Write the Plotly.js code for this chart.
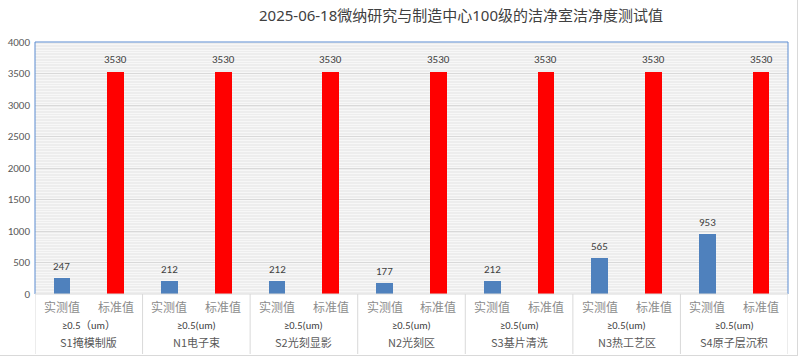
<!DOCTYPE html>
<html><head><meta charset="utf-8">
<script src="https://cdn.plot.ly/plotly-3.0.1.min.js"></script>
<style>html,body{margin:0;padding:0;background:#fff;}#wrap{position:relative;width:799px;height:357px;}#gd{width:799px;height:357px;}#frame{position:absolute;left:0;top:0;width:798px;height:356px;box-sizing:border-box;border-right:1px solid #d9d9d9;border-bottom:1px solid #d9d9d9;pointer-events:none;}</style>
</head><body><div id="wrap"><div id="gd"></div><div id="frame"></div></div>
<script>
const chartTitle = "2025-06-18微纳研究与制造中心100级的洁净室洁净度测试值";
const locations = ["S1掩模制版","N1电子束","S2光刻显影","N2光刻区","S3基片清洗","N3热工艺区","S4原子层沉积"];
const sizeLabels = ["≥0.5（um）","≥0.5(um)","≥0.5(um)","≥0.5(um)","≥0.5(um)","≥0.5(um)","≥0.5(um)"];
const seriesNames = ["实测值","标准值"];
const measured = [247,212,212,177,212,565,953];
const standard = [3530,3530,3530,3530,3530,3530,3530];
const yTicks = [0,500,1000,1500,2000,2500,3000,3500,4000];

const n = locations.length;
const xBlue = locations.map((_,i)=>2*i);
const xRed = locations.map((_,i)=>2*i+1);
const font = "Calibri, Carlito, 'Noto Sans', 'Noto Sans CJK SC', sans-serif";
const cjk = "'Noto Sans CJK SC', sans-serif";

const traces = [
  {type:'bar', x:xBlue, y:measured, width:0.31, marker:{color:'#4f81bd'}, hoverinfo:'y', name:seriesNames[0]},
  {type:'bar', x:xRed, y:standard, width:0.31, marker:{color:'#ff0000'}, hoverinfo:'y', name:seriesNames[1]}
];

const annotations = [];
const shapes = [];
const plotH = 357-42-63;
const py = p => -(p-294)/plotH;
for (let i=0;i<n;i++){
  annotations.push({x:xBlue[i], y:measured[i], xref:'x', yref:'y', text:String(measured[i]), showarrow:false, yanchor:'bottom', yshift:3, font:{size:11,color:'#404040',family:font}});
  annotations.push({x:xRed[i], y:standard[i], xref:'x', yref:'y', text:String(standard[i]), showarrow:false, yanchor:'bottom', yshift:4, font:{size:11,color:'#404040',family:font}});
  for (let k=0;k<2;k++){
    annotations.push({x:2*i+k, xref:'x', y:py(306), yref:'paper', text:seriesNames[k], showarrow:false, yanchor:'middle', font:{size:12,color:'#8c8c8c',family:cjk}});
  }
  annotations.push({x:2*i+0.5, xref:'x', y:py(325.5), yref:'paper', text:sizeLabels[i], showarrow:false, yanchor:'middle', font:{size:10.5,color:'#404040',family:font}});
  annotations.push({x:2*i+0.5, xref:'x', y:py(342), yref:'paper', text:locations[i], showarrow:false, yanchor:'middle', font:{size:11,color:'#595959',family:cjk}});
}
for (let i=0;i<=n;i++){
  shapes.push({type:'line', xref:'x', yref:'paper', x0:2*i-0.5, x1:2*i-0.5, y0:0, y1:py(354), line:{color:'#d9d9d9',width:1}});
}
shapes.push({type:'line', xref:'paper', yref:'paper', x0:0,x1:0,y0:0,y1:1, line:{color:'#5b8bd0',width:1}});
shapes.push({type:'line', xref:'paper', yref:'paper', x0:0,x1:1,y0:1,y1:1, line:{color:'#5b8bd0',width:1}});
shapes.push({type:'line', xref:'paper', yref:'paper', x0:1,x1:1,y0:0,y1:1, line:{color:'#5b8bd0',width:1}});
shapes.push({type:'line', xref:'paper', yref:'paper', x0:0,x1:1,y0:0,y1:0, line:{color:'#d9d9d9',width:1}});

const layout = {
  width:799, height:357,
  margin:{l:35, r:11, t:42, b:63},
  paper_bgcolor:'#ffffff', plot_bgcolor:'#f7f7f7',
  showlegend:false,
  title:{text:chartTitle, x:0.577, xanchor:'center', xref:'container', y:0.955, yref:'container', yanchor:'middle', font:{size:15,color:'#404040',family:"'Noto Sans', 'Noto Sans CJK SC', sans-serif"}},
  xaxis:{range:[-0.5, 2*n-0.5], showticklabels:false, showgrid:false, zeroline:false, ticks:''},
  yaxis:{range:[0,4000], tickvals:yTicks, ticktext:yTicks.map(String), showgrid:true, gridcolor:'#d9d9d9', zeroline:false, ticks:'', tickfont:{size:11,color:'#595959',family:font}, ticklabelstandoff:4,
    minor:{dtick:25, showgrid:true, gridcolor:'#ededed', gridwidth:1}},
  annotations, shapes, bargap:0
};
Plotly.newPlot('gd', traces, layout, {staticPlot:true});
</script></body></html>
